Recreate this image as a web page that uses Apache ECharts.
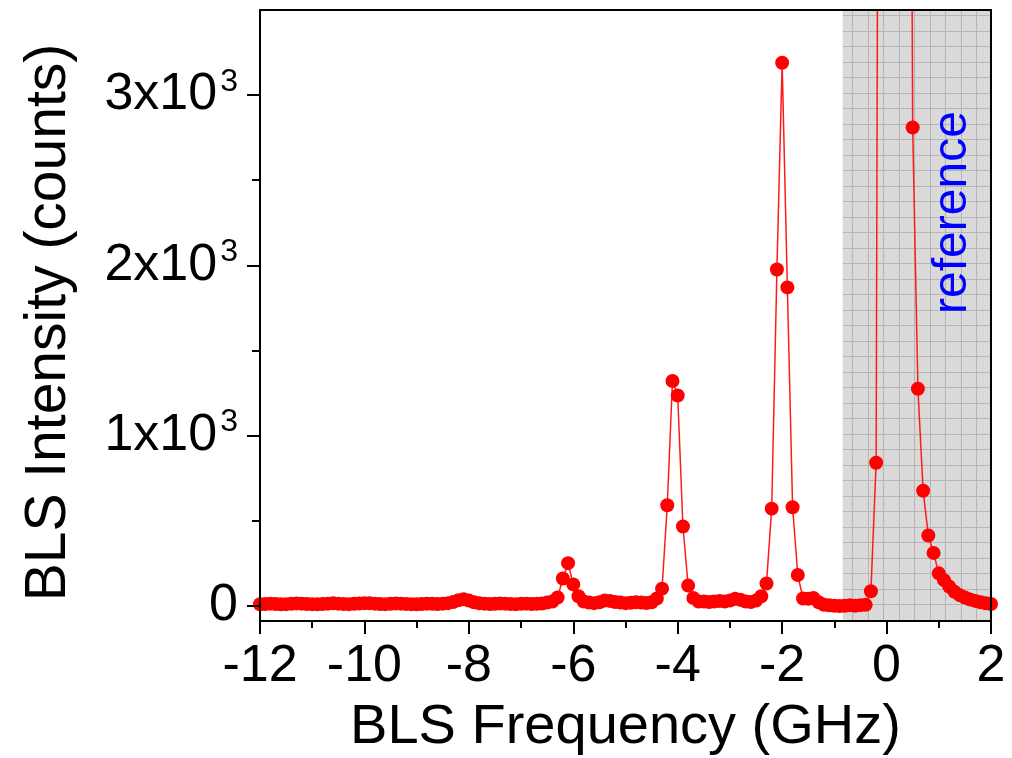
<!DOCTYPE html>
<html>
<head>
<meta charset="utf-8">
<script src="https://cdn.jsdelivr.net/npm/echarts@6/dist/echarts.min.js"></script>
<style>
  html, body { margin: 0; padding: 0; background: #fff; }
  #chart { width: 1012px; height: 758px; }
</style>
</head>
<body>
<div id="chart"></div>
<script>
// frequency grid of the spectrum (GHz)
const freqStart = -12;
const freqStep = 0.1;

// BLS intensity (counts), one value per frequency step
const intensity = [
  8, 10, 12, 10, 8, 9, 11, 13, 12, 10,          // -12.0 .. -11.1
  9, 8, 10, 12, 14, 12, 10, 9, 11, 13,          // -11.0 .. -10.1
  15, 14, 12, 10, 9, 11, 13, 12, 10, 9,         // -10.0 .. -9.1
  8, 10, 12, 11, 10, 12, 15, 22, 32, 38,        // -9.0 .. -8.1
  30, 20, 14, 12, 10, 11, 13, 12, 10, 9,        // -8.0 .. -7.1
  11, 12, 10, 11, 13, 18, 25, 48, 160, 250,     // -7.0 .. -6.1
  125, 55, 25, 18, 15, 20, 30, 28, 22, 18,      // -6.0 .. -5.1
  15, 17, 20, 18, 16, 20, 42, 100, 590, 1320,   // -5.0 .. -4.1
  1235, 465, 118, 45, 25, 25, 22, 25, 28, 25,   // -4.0 .. -3.1
  30, 40, 35, 25, 22, 30, 55, 130, 570, 1975,   // -3.0 .. -2.1
  3190, 1870, 578, 180, 42, 40, 45, 20, 5, 2,   // -2.0 .. -1.1
  0, -2, 0, 2, 0, 3, 5, 85, 840, 12000,         // -1.0 .. -0.1
  60000, 95000, 70000, 35000, 10000, 2810, 1275, 675, 412, 310, // 0.0 .. 0.9
  190, 150, 112, 82, 62, 48, 36, 28, 20, 14, 10 // 1.0 .. 2.0
];

const xTicks = [-12, 2, 2];            // min, max, step
const yMajorTicks = [0, 1000, 2000, 3000];
const yMinorTicks = [500, 1500, 2500];
const referenceBand = [-0.84, 2];      // shaded laser reference region
const referenceLabel = { text: "reference", freq: 1.27, counts: 2310 };

const FONT = "'Liberation Sans', Arial, sans-serif";
const yMin = -90;
const yMax = 3500;

const seriesData = intensity.map((v, i) => [
  +(freqStart + i * freqStep).toFixed(2),
  v,
]);

// grey squared-paper fill for the reference band
const makePattern = () => {
  const c = document.createElement("canvas");
  c.width = 31;
  c.height = 31;
  const ctx = c.getContext("2d");
  ctx.fillStyle = "#dcdcdc";
  ctx.fillRect(0, 0, 31, 31);
  ctx.fillStyle = "#d2d2d2";
  for (let x = 0; x < 31; x += 2) {
    for (let y = (x / 2) % 2; y < 31; y += 2) {
      ctx.fillRect(x, y, 1, 1);
    }
  }
  ctx.fillStyle = "#b6b6b6";
  ctx.fillRect(0, 0, 1, 31);
  ctx.fillRect(15, 0, 1, 31);
  ctx.fillRect(0, 0, 31, 1);
  ctx.fillRect(0, 15, 31, 1);
  return c;
};

const supLabel = (value) => {
  if (value === 0) return "{b|0}";
  return "{b|" + value / 1000 + "x10}{s|3}";
};

const chart = echarts.init(document.getElementById("chart"), null, {
  renderer: "canvas",
});

const option = {
  animation: false,
  backgroundColor: "#fff",
  grid: {
    left: 260,
    right: 21,
    top: 10,
    bottom: 137,
    outerBoundsMode: "none",
  },
  xAxis: [
    {
      type: "value",
      min: xTicks[0],
      max: xTicks[1],
      interval: xTicks[2],
      z: 10,
      name: "BLS Frequency (GHz)",
      nameLocation: "middle",
      nameGap: 79,
      nameTextStyle: { fontFamily: FONT, fontSize: 56, color: "#000" },
      axisLine: { show: true, onZero: false, lineStyle: { color: "#000", width: 2 } },
      axisTick: { show: true, inside: false, length: 13, lineStyle: { color: "#000", width: 2 } },
      minorTick: { show: true, splitNumber: 2, length: 7, lineStyle: { color: "#000", width: 2 } },
      axisLabel: { fontFamily: FONT, fontSize: 52, color: "#000", margin: 20 },
      splitLine: { show: false },
      minorSplitLine: { show: false },
    },
    {
      type: "value",
      position: "top",
      min: xTicks[0],
      max: xTicks[1],
      z: 10,
      axisLine: { show: true, onZero: false, lineStyle: { color: "#000", width: 2 } },
      axisTick: { show: false },
      axisLabel: { show: false },
      splitLine: { show: false },
    },
  ],
  yAxis: [
    {
      type: "value",
      min: yMin,
      max: yMax,
      z: 10,
      name: "BLS Intensity (counts)",
      nameLocation: "middle",
      nameGap: 182,
      nameTextStyle: {
        fontFamily: FONT,
        fontSize: 57,
        color: "#000",
        padding: [0, 14, 0, 0],
      },
      axisLine: { show: true, onZero: false, lineStyle: { color: "#000", width: 2 } },
      axisTick: {
        show: true,
        length: 13,
        customValues: yMajorTicks,
        lineStyle: { color: "#000", width: 2 },
      },
      axisLabel: {
        margin: 22,
        customValues: yMajorTicks,
        formatter: supLabel,
        rich: {
          b: { fontFamily: FONT, fontSize: 52, color: "#000" },
          s: {
            fontFamily: FONT,
            fontSize: 32,
            color: "#000",
            verticalAlign: "bottom",
            padding: [0, 0, 26, 3],
          },
        },
      },
      splitLine: { show: false },
    },
    {
      type: "value",
      position: "left",
      min: yMin,
      max: yMax,
      z: 10,
      axisLine: { show: false, onZero: false },
      axisTick: {
        show: true,
        length: 8,
        customValues: yMinorTicks,
        lineStyle: { color: "#000", width: 2 },
      },
      axisLabel: { show: false },
      splitLine: { show: false },
    },
    {
      type: "value",
      position: "right",
      min: yMin,
      max: yMax,
      z: 10,
      axisLine: { show: true, onZero: false, lineStyle: { color: "#000", width: 2 } },
      axisTick: { show: false },
      axisLabel: { show: false },
      splitLine: { show: false },
    },
  ],
  series: [
    {
      type: "line",
      xAxisIndex: 0,
      yAxisIndex: 0,
      data: seriesData,
      clip: true,
      symbol: "circle",
      symbolSize: 14,
      showAllSymbol: true,
      itemStyle: { color: "#ff0000" },
      lineStyle: { color: "#ff1a1a", width: 1.5 },
      emphasis: { disabled: true },
      markArea: {
        silent: true,
        itemStyle: { color: { image: makePattern(), repeat: "repeat" } },
        data: [[{ xAxis: referenceBand[0] }, { xAxis: referenceBand[1] }]],
      },
      markPoint: {
        silent: true,
        symbol: "circle",
        symbolSize: 0,
        data: [
          {
            coord: [referenceLabel.freq, referenceLabel.counts],
            label: {
              show: true,
              position: "inside",
              formatter: referenceLabel.text,
              rotate: 90,
              fontFamily: FONT,
              fontSize: 48,
              color: "#0000ff",
            },
          },
        ],
      },
    },
  ],
};

chart.setOption(option);
</script>
</body>
</html>
